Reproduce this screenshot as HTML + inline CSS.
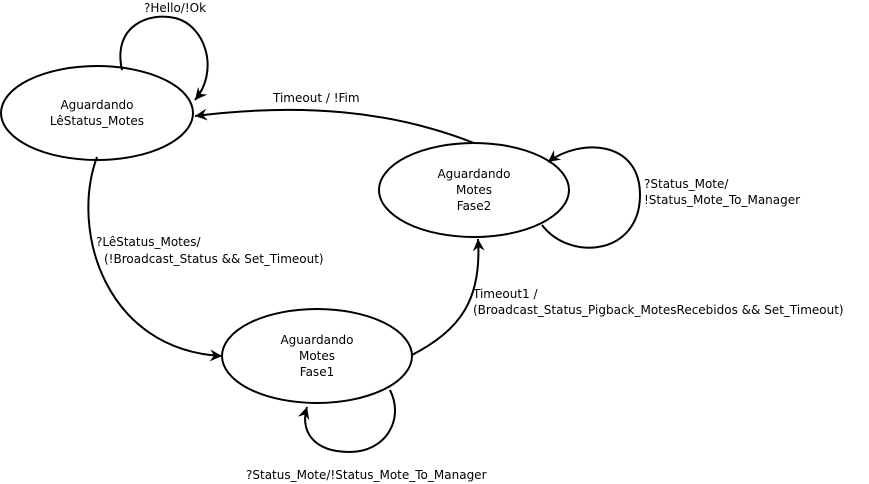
<!DOCTYPE html>
<html><head><meta charset="utf-8"><style>
html,body{margin:0;padding:0;background:#fff;}
svg{display:block;}
text{font-family:"DejaVu Sans","Liberation Sans",sans-serif;font-size:12px;fill:#000;}
</style></head><body>
<svg width="869" height="484" viewBox="0 0 869 484" xmlns="http://www.w3.org/2000/svg">
<defs>
<marker id="a" markerWidth="14" markerHeight="12" refX="12" refY="6" orient="auto" markerUnits="userSpaceOnUse">
<path d="M0,0 L12,6 L0,12 L4,6 Z" fill="#000"/>
</marker>
</defs>
<g fill="#fff" stroke="#000" stroke-width="2">
<ellipse cx="97" cy="113" rx="96" ry="47"/>
<ellipse cx="474" cy="190" rx="95" ry="47"/>
<ellipse cx="317" cy="356" rx="95" ry="47"/>
</g>
<g fill="none" stroke="#000" stroke-width="2" marker-end="url(#a)">
<path d="M122,70 C112,25 150,12 175,18 C205,25 220,70 195,100"/>
<path d="M474,143 C390,110 300,103 195,116"/>
<path d="M97,157 C70,230 105,350 222,356"/>
<path d="M412,355 C460,330 482,300 478,239"/>
<path d="M542,225 C570,262 640,255 640,195 C640,140 580,138 548,162"/>
<path d="M390,390 C405,420 385,452 350,452 C312,452 300,430 307,407"/>
</g>
<g text-anchor="middle">
<text x="97" y="109">Aguardando</text>
<text x="97" y="125">LêStatus_Motes</text>
<text x="474" y="178">Aguardando</text>
<text x="474" y="194">Motes</text>
<text x="474" y="210">Fase2</text>
<text x="317" y="344">Aguardando</text>
<text x="317" y="360">Motes</text>
<text x="317" y="376">Fase1</text>
</g>
<text x="144" y="12">?Hello/!Ok</text>
<text x="273" y="102">Timeout / !Fim</text>
<text x="644" y="188">?Status_Mote/</text>
<text x="644" y="204">!Status_Mote_To_Manager</text>
<text x="96" y="246">?LêStatus_Motes/</text>
<text x="104" y="263">(!Broadcast_Status &amp;&amp; Set_Timeout)</text>
<text x="473" y="298">Timeout1 /</text>
<text x="473" y="314">(Broadcast_Status_Pigback_MotesRecebidos &amp;&amp; Set_Timeout)</text>
<text x="246" y="479">?Status_Mote/!Status_Mote_To_Manager</text>
</svg>
</body></html>
